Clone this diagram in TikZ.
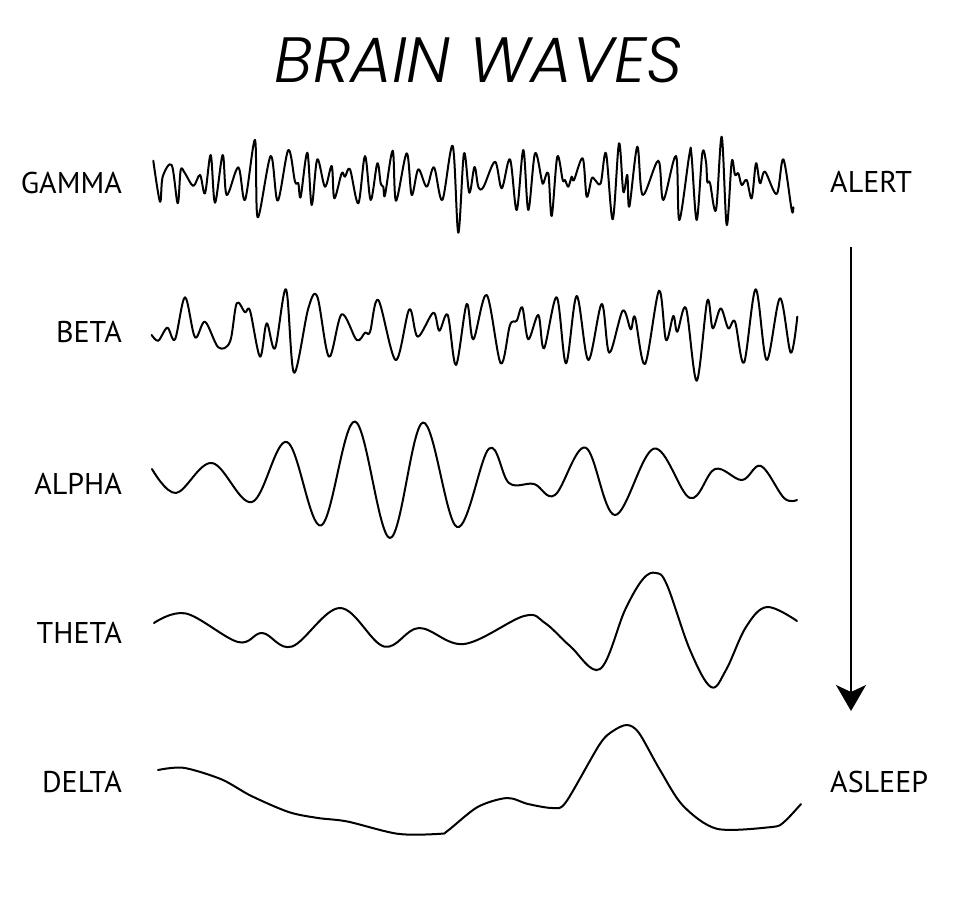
\documentclass[tikz,border=0pt]{standalone}
\usepackage{fontspec}
\setmainfont{PT Sans}
\IfFontExistsTF{Poppins Light Italic}{\newfontfamily\titlefont{Poppins Light Italic}}{\newfontfamily\titlefont{Poppins}[FakeSlant=0.2]}
\usetikzlibrary{arrows.meta}
\begin{document}
\begin{tikzpicture}[x=1pt,y=-1pt,
  wave/.style={line width=2pt,line join=round,line cap=round},
  lbl/.style={inner sep=0pt,font=\fontsize{30}{30}\selectfont},
  flowarrow/.style={line width=1.6pt,-{Stealth[length=26pt,width=30pt,inset=7pt]}}]
\useasboundingbox (0,0) rectangle (955,899);
% title
\node[inner sep=0pt,anchor=base,font=\titlefont\fontsize{64}{64}\selectfont] (title) at (479,82) {BRAIN WAVES};
% labels
\node[lbl,anchor=base east] (gamma) at (122,193) {GAMMA};
\node[lbl,anchor=base east] (beta) at (122,342) {BETA};
\node[lbl,anchor=base east] (alpha) at (122,494) {ALPHA};
\node[lbl,anchor=base east] (theta) at (122,643) {THETA};
\node[lbl,anchor=base east] (delta) at (122,792) {DELTA};
\node[lbl,anchor=base west] (alert) at (830,192) {ALERT};
\node[lbl,anchor=base west] (asleep) at (830,792) {ASLEEP};
% arrow
\coordinate (atop) at (851,247);
\coordinate (abot) at (851,711);
\draw[flowarrow] (atop) -- (abot);
% gamma
\draw[wave] plot[smooth,tension=0.55] coordinates {(153.3,160.7) (160,201.7) (162.7,176.7) (171.7,165) (177.7,203.3) (180.7,170) (185,173.3) (193.3,186) (200,175) (205,193.3) (210.7,155) (215,202.7) (222.7,155) (226.7,195) (238.3,167.3) (245,200) (255,140) (257.7,217.3) (270.7,156) (277.7,200.7) (288.3,150) (295,181.7) (298.3,183.3) (300.7,196.7) (307.3,152.7) (311.7,205) (317.3,159.3) (325,186.7) (331.7,166) (334.3,198.3) (341.7,173.3) (345,176.7) (350,169.3) (358.3,203.3) (365,156) (370.7,200) (377.3,163.3) (380.7,183.3) (383.3,186.7) (385,195) (392.7,150.7) (396,200.7) (406.7,153.3) (411.7,195) (418.3,169.3) (426.7,186.7) (434,167.3) (442.3,200) (452.7,146) (458.3,232.7) (464,153.3) (469.3,192.7) (474.5,167) (478.3,186.7) (483.3,187.3) (495,161.7) (501.7,188.3) (510,159.3) (516.7,210) (523.3,150) (528.3,210) (535,153.3) (541.7,180) (543.3,183.3) (548.3,173.3) (551.7,216) (557.3,156.7) (562.7,180) (565,180) (568.3,186.7) (571.7,176.7) (574,180) (582.7,158.3) (586.7,196.7) (591.7,178.3) (595,180) (600.7,183.3) (606,153.3) (612.7,219.3) (619,143.3) (623.3,191.7) (627.3,175) (629.3,206.7) (637.3,146.7) (642.7,195) (658.3,160.7) (663.3,200) (676,156) (679.3,220) (689.3,155) (691.5,155) (696.7,220) (702.3,153.3) (706,162) (707.3,181.7) (710,183) (716,210) (721.7,136.7) (726.7,225) (731.7,161.7) (735,175) (738.3,173.3) (741.7,185) (746.7,180) (751.7,198.3) (756,163.3) (760,183.3) (765,171.7) (776.7,194) (783.3,159.3) (791.7,210) (793.3,207.3)};
% beta
\draw[wave] plot[smooth,tension=0.55] coordinates {(151.7,335) (158.3,340.7) (167.3,327.7) (175,339.3) (185,297.3) (195,337.3) (205,321.7) (218.3,347.3) (230,341.7) (236.7,303.3) (245,312.3) (250,310.7) (260,356.7) (266.7,323.3) (275,348.3) (286,289.3) (294,372.7) (308.3,308.3) (317.3,296.7) (329,356.7) (341.7,314.3) (356.7,340) (365,332.7) (370,332) (378.3,300) (395.7,360) (409.3,309.3) (417.7,336.7) (433.3,312.7) (439.3,330.7) (447.7,315) (456,365) (466.7,304) (473.3,339.3) (486.7,295) (500.7,363.3) (510,325) (516.7,320.7) (522.3,307.3) (528.3,339.3) (538.3,315) (544,348.3) (556.7,297.3) (566,363.3) (576.7,296) (588.3,360) (601.7,304) (609.3,352.7) (622.7,310.7) (630.7,329.3) (635,317.3) (645,364) (659,290.7) (666,340) (673.3,316) (677.3,331.7) (686,308.3) (696.7,380.7) (707.3,300.7) (712.7,328.3) (720.7,308.3) (728.3,328.3) (735,321.7) (744,362.7) (755.7,289.3) (766.7,360) (780,298.3) (790.7,352.7) (797.3,316.7)};
% alpha
\draw[wave] plot[smooth,tension=0.6] coordinates {(152,469) (176,493) (212,463) (252,502) (287,442) (321,525.5) (355,421.5) (390,538) (423,422.5) (457,527) (489,448.6) (509,483) (534,484) (555,495) (585.5,447.6) (615,515) (654,448.6) (690,498) (715,469) (742,480) (761,466) (784,498) (797,500)};
% theta
\draw[wave] plot[smooth,tension=0.6] coordinates {(154,623) (186,613.5) (238,642) (262.5,633) (292,646.5) (340,608) (384,646.5) (419,628) (464,644) (524,616) (545,623) (570,646) (600,669) (625,610) (643,579) (656,573) (667,585) (690,650) (711,687) (726,670) (746,627) (767,607) (797,621)};
% delta
\draw[wave] plot[smooth,tension=0.5] coordinates {(158,770) (183.6,767.8) (221.4,779.3) (251,795.8) (288.6,812) (318,818) (347.4,821.5) (397.8,833.8) (439.8,833.8) (448,830.5) (477.6,807) (507,798) (528,804) (553,808) (566,802) (599.4,744.7) (613,731) (627,725) (639,733) (660,770) (683,805.7) (717,828.8) (771.6,827) (784,822) (801,804)};
\end{tikzpicture}
\end{document}
